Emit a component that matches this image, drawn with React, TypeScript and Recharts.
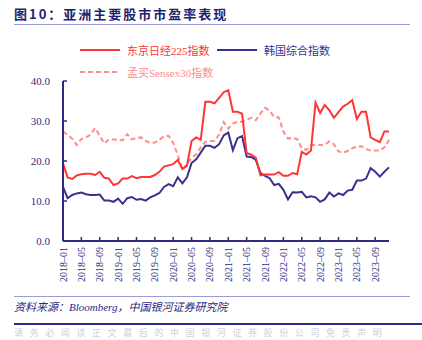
import { Line, LineChart, XAxis, YAxis } from "recharts";

const months: string[] = [];
for (let y = 2018; y <= 2023; y++) {
  for (let m = 1; m <= 12; m++) months.push(`${y}–${String(m).padStart(2, "0")}`);
}

// 东京日经225指数
const nikkei = [
  19.4, 15.9, 15.5, 16.4, 16.7, 16.8, 16.8, 16.5, 17.3, 15.8, 15.6, 14.0,
  14.4, 15.6, 15.6, 16.2, 15.7, 16.0, 16.0, 16.0, 16.5, 17.3, 18.6, 18.9,
  19.2, 20.3, 18.0, 18.8, 25.0, 25.9, 25.3, 34.8, 34.8, 34.4, 35.8, 37.2,
  37.7, 32.3, 32.3, 31.8, 22.0, 21.6, 20.8, 16.4, 16.6, 16.6, 16.6, 17.2,
  16.3, 16.3, 17.0, 16.7, 22.3, 21.6, 22.6, 34.6, 32.0, 34.0, 32.7, 30.8,
  32.2, 33.6, 34.3, 35.2, 30.5, 32.3, 32.3, 25.9, 25.3, 24.7, 27.4, 27.4,
];

// 韩国综合指数
const kospi = [
  13.5, 10.7, 11.5, 11.9, 12.1, 11.7, 11.5, 11.5, 11.6, 10.1, 10.1, 9.8,
  10.6, 9.3, 10.7, 11.0, 10.3, 10.5, 10.1, 10.9, 11.4, 12.0, 13.5, 14.2,
  13.7, 15.9, 14.4, 15.9, 19.5, 20.4, 22.1, 23.8, 23.8, 23.3, 24.2, 26.4,
  27.1, 22.7, 25.7, 26.2, 21.1, 21.0, 20.3, 17.0, 16.3, 15.7, 14.0, 14.3,
  12.8, 10.4, 12.2, 12.1, 12.3, 10.9, 11.2, 10.9, 9.8, 10.4, 12.1, 11.1,
  11.9, 11.5, 12.6, 12.8, 15.1, 15.1, 15.6, 18.2, 17.3, 16.1, 17.3, 18.4,
];

// 孟买Sensex30指数
const sensex = [
  27.4, 26.5, 25.6, 24.0, 25.5, 25.9, 26.6, 28.2, 26.3, 24.4, 25.4, 25.4,
  25.3, 25.2, 26.7, 25.4, 25.8, 25.9, 25.0, 24.5, 24.6, 25.3, 26.2, 26.3,
  24.5, 21.5, 17.8, 19.3, 20.8, 21.7, 23.4, 24.8, 25.0, 25.0, 26.6, 29.7,
  28.1, 29.4, 29.8, 29.8, 30.3, 30.8, 30.2, 31.9, 33.3, 32.6, 31.0, 30.9,
  27.3, 25.6, 25.8, 25.5, 23.2, 22.8, 23.9, 24.1, 24.0, 24.1, 24.9, 24.2,
  22.4, 22.1, 22.5, 23.2, 23.6, 23.7, 23.0, 22.6, 22.6, 22.6, 23.4, 25.3,
];

const yTicks = [0, 5, 10, 15, 20, 25, 30, 35, 40];

const data = months.map((month, i) => ({
  month,
  nikkei: nikkei[i],
  kospi: kospi[i],
  sensex: sensex[i],
}));

const NAVY = "#2e2a87";
const RED = "#ff3535";
const BLUE = "#38318f";
const PINK = "#ff8d8d";
const SERIF = '"Liberation Serif", "Noto Sans CJK SC", serif';

function MonthTick({ x, y, payload }: any) {
  return (
    <g transform={`translate(${x},${y})`}>
      <line x1={0} y1={0} x2={0} y2={-4} stroke={NAVY} strokeWidth={1.5} />
      <text
        transform="rotate(-90)"
        x={-6}
        y={0}
        dy={3.5}
        textAnchor="end"
        fontSize={10}
        fill={NAVY}
        fontFamily={SERIF}
      >
        {payload.value}
      </text>
    </g>
  );
}

function ValueTick({ x, y, payload }: any) {
  return (
    <g transform={`translate(${x},${y})`}>
      <line x1={0} y1={0} x2={4} y2={0} stroke={NAVY} strokeWidth={1.5} />
      <text x={-13} y={0} dy={4} textAnchor="end" fontSize={11} fill={NAVY} fontFamily={SERIF}>
        {Number(payload.value).toFixed(1)}
      </text>
    </g>
  );
}

function LegendItem({ left, top, color, dashed, label }: any) {
  return (
    <div style={{ position: "absolute", left, top, display: "flex", alignItems: "center" }}>
      <svg width={42} height={6} style={{ display: "block" }}>
        <line
          x1={0}
          y1={3}
          x2={40}
          y2={3}
          stroke={color}
          strokeWidth={2}
          strokeDasharray={dashed ? "5 3" : undefined}
        />
      </svg>
      <span style={{ marginLeft: 5, fontSize: 11, color, fontFamily: SERIF, whiteSpace: "nowrap" }}>
        {label}
      </span>
    </div>
  );
}

export default function App() {
  return (
    <div
      style={{
        position: "absolute",
        left: 0,
        top: 0,
        width: 422,
        height: 340,
        overflow: "hidden",
        background: "#fff",
        fontFamily: SERIF,
      }}
    >
      <div
        style={{
          position: "absolute",
          left: 14,
          top: 5,
          fontSize: 13,
          fontWeight: 700,
          letterSpacing: 2,
          color: "#231f6e",
          fontFamily: '"Noto Sans CJK SC", sans-serif',
          whiteSpace: "nowrap",
          lineHeight: "18px",
        }}
      >
        图10：亚洲主要股市市盈率表现
      </div>
      <div style={{ position: "absolute", left: 14, top: 24, width: 396, height: 1, background: "#a09ad8" }} />

      <LegendItem left={80} top={42} color={RED} label="东京日经225指数" />
      <LegendItem left={217} top={42} color={BLUE} label="韩国综合指数" />
      <LegendItem left={80} top={64} color={PINK} dashed label="孟买Sensex30指数" />

      <div style={{ position: "absolute", left: 0, top: 0 }}>
        <LineChart
          width={422}
          height={340}
          data={data}
          margin={{ top: 81, right: 33, bottom: 39, left: 0 }}
        >
          <XAxis
            dataKey="month"
            interval={3}
            tickSize={0}
            tickMargin={0}
            tickLine={false}
            tick={<MonthTick />}
            height={60}
            axisLine={{ stroke: NAVY, strokeWidth: 2 }}
          />
          <YAxis
            domain={[0, 40]}
            ticks={yTicks}
            width={63}
            tickSize={0}
            tickMargin={0}
            tickLine={false}
            tick={<ValueTick />}
            axisLine={{ stroke: NAVY, strokeWidth: 2 }}
          />
          <Line
            dataKey="sensex"
            stroke={PINK}
            strokeWidth={2}
            strokeDasharray="5 3"
            dot={false}
            isAnimationActive={false}
          />
          <Line dataKey="kospi" stroke={BLUE} strokeWidth={2} dot={false} isAnimationActive={false} />
          <Line dataKey="nikkei" stroke={RED} strokeWidth={2} dot={false} isAnimationActive={false} />
        </LineChart>
      </div>

      <div style={{ position: "absolute", left: 14, top: 296, width: 396, height: 1, background: "#a09ad8" }} />
      <div
        style={{
          position: "absolute",
          left: 14,
          top: 299,
          fontSize: 11,
          fontStyle: "italic",
          color: "#2a2680",
          whiteSpace: "nowrap",
          lineHeight: "16px",
        }}
      >
        资料来源：Bloomberg，中国银河证券研究院
      </div>
      <div style={{ position: "absolute", left: 14, top: 323, width: 408, height: 1.5, background: "#2e2a87" }} />
      <div
        style={{
          position: "absolute",
          left: 14,
          top: 328,
          fontSize: 9,
          lineHeight: "11px",
          color: "#d0d0d8",
          whiteSpace: "nowrap",
          letterSpacing: 6.6,
        }}
      >
        请务必阅读正文最后的中国银河证券股份公司免责声明
      </div>
    </div>
  );
}
